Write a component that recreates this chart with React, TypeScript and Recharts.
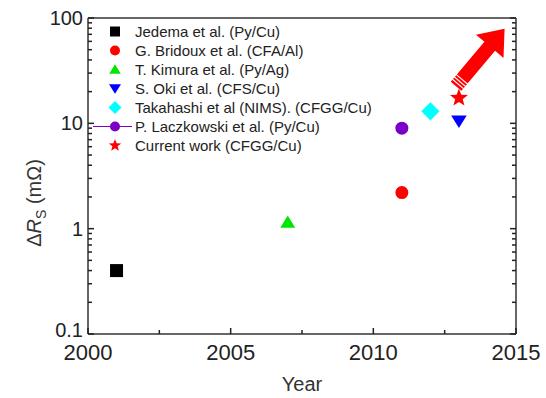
import { ReferenceLine, Scatter, ScatterChart, XAxis, YAxis } from 'recharts'

// one point per publication: [year, ΔRs in mΩ]
const jedema = [{ year: 2001, dr: 0.4 }]
const bridoux = [{ year: 2011, dr: 2.2 }]
const kimura = [{ year: 2007, dr: 1.15 }]
const oki = [{ year: 2013, dr: 10.5 }]
const takahashi = [{ year: 2012, dr: 13 }]
const laczkowski = [{ year: 2011, dr: 9 }]
const current = [{ year: 2013, dr: 17.4 }]

// arrow annotation, in data units
const arrowFrom = { year: 2012.9, dr: 22.5 }
const arrowTo = { year: 2014.6, dr: 79 }

const xTicks = [2000, 2002.5, 2005, 2007.5, 2010, 2012.5, 2015]
const xLabels = [2000, 2005, 2010, 2015]
const yDecades = [0.1, 1, 10, 100]
const yTicks = [
  0.1, 0.2, 0.3, 0.4, 0.5, 0.6, 0.7, 0.8, 0.9,
  1, 2, 3, 4, 5, 6, 7, 8, 9,
  10, 20, 30, 40, 50, 60, 70, 80, 90,
  100,
]

type Sym = 'square' | 'circle' | 'triangle' | 'down' | 'diamond' | 'star'

const series: { name: string; color: string; symbol: Sym; data: { year: number; dr: number }[]; line?: boolean }[] = [
  { name: 'Jedema et al. (Py/Cu)', color: '#000000', symbol: 'square', data: jedema },
  { name: 'G. Bridoux et al. (CFA/Al)', color: '#ff0000', symbol: 'circle', data: bridoux },
  { name: 'T. Kimura et al. (Py/Ag)', color: '#00e600', symbol: 'triangle', data: kimura },
  { name: 'S. Oki et al. (CFS/Cu)', color: '#0000ff', symbol: 'down', data: oki },
  { name: 'Takahashi et al (NIMS). (CFGG/Cu)', color: '#00ffff', symbol: 'diamond', data: takahashi },
  { name: 'P. Laczkowski et al. (Py/Cu)', color: '#7a00c8', symbol: 'circle', data: laczkowski, line: true },
  { name: 'Current work (CFGG/Cu)', color: '#ff0000', symbol: 'star', data: current },
]

const AXIS = '#333'
const FONT = '"Liberation Sans", Arial, sans-serif'

function symbolPath(sym: Sym, cx: number, cy: number, s: number) {
  const h = s / 2
  switch (sym) {
    case 'square':
      return `M${cx - h},${cy - h}h${s}v${s}h${-s}Z`
    case 'triangle':
      return `M${cx},${cy - h * 1.05}L${cx + h * 1.15},${cy + h * 0.85}L${cx - h * 1.15},${cy + h * 0.85}Z`
    case 'down':
      return `M${cx},${cy + h * 1.05}L${cx + h * 1.2},${cy - h * 0.85}L${cx - h * 1.2},${cy - h * 0.85}Z`
    case 'diamond':
      return `M${cx},${cy - h * 1.3}L${cx + h * 1.3},${cy}L${cx},${cy + h * 1.3}L${cx - h * 1.3},${cy}Z`
    case 'star': {
      const pts: string[] = []
      const ro = h * 1.45
      const ri = ro * 0.42
      for (let i = 0; i < 10; i++) {
        const r = i % 2 === 0 ? ro : ri
        const a = -Math.PI / 2 + (i * Math.PI) / 5
        pts.push(`${cx + r * Math.cos(a)},${cy + r * Math.sin(a)}`)
      }
      return `M${pts.join('L')}Z`
    }
    default:
      return `M${cx - h},${cy}a${h},${h} 0 1,0 ${s},0a${h},${h} 0 1,0 ${-s},0`
  }
}

function Marker({ sym, color, cx, cy, size }: { sym: Sym; color: string; cx: number; cy: number; size: number }) {
  return <path d={symbolPath(sym, cx, cy, size)} fill={color} />
}

// ticks point inward on all four sides, labels only on bottom/left
function XTick(props: any) {
  const { payload, side } = props
  const x = Number(props.x)
  const y = Number(props.y)
  const major = payload.value % 5 === 0
  const len = major ? 6 : 4
  const dir = side === 'bottom' ? -1 : 1
  return (
    <g>
      <path d={`M${x},${y}V${y + dir * len}`} stroke="#222" strokeWidth={1.5} />
      {side === 'bottom' && xLabels.includes(payload.value) && (
        <text fill="#222" fontFamily={FONT} fontSize={22} textAnchor="middle" x={x} y={y + 26}>
          {payload.value}
        </text>
      )}
    </g>
  )
}

function YTick(props: any) {
  const { payload, side } = props
  const x = Number(props.x)
  const y = Number(props.y)
  const major = yDecades.some(d => Math.abs(d - payload.value) < 1e-9)
  const len = major ? 6 : 4
  const dir = side === 'left' ? 1 : -1
  return (
    <g>
      <path d={`M${x},${y}H${x + dir * len}`} stroke="#222" strokeWidth={1.5} />
      {side === 'left' && major && (
        <text fill="#222" fontFamily={FONT} fontSize={20} textAnchor="end" x={x - 5} y={y + (payload.value === 0.1 ? 3 : 7)}>
          {payload.value}
        </text>
      )}
    </g>
  )
}

function Arrow({ x1, y1, x2, y2 }: any) {
  const dx = x2 - x1
  const dy = y2 - y1
  const L = Math.hypot(dx, dy)
  const ux = dx / L
  const uy = dy / L
  const nx = -uy
  const ny = ux
  const headLen = 23
  const headHalf = 18
  const shaft = 7
  const bx = x2 - ux * headLen
  const by = y2 - uy * headLen
  const p = (px: number, py: number) => `${px},${py}`
  const pts = [
    p(x1 + nx * shaft, y1 + ny * shaft),
    p(bx + nx * shaft, by + ny * shaft),
    p(bx + nx * headHalf, by + ny * headHalf),
    p(x2, y2),
    p(bx - nx * headHalf, by - ny * headHalf),
    p(bx - nx * shaft, by - ny * shaft),
    p(x1 - nx * shaft, y1 - ny * shaft),
  ]
  const stripes = [3, 6, 9].map(d => {
    const sx = x1 + ux * d
    const sy = y1 + uy * d
    return (
      <line
        key={d}
        stroke="#fff"
        strokeWidth={1.1}
        x1={sx + nx * (shaft + 1)}
        x2={sx - nx * (shaft + 1)}
        y1={sy + ny * (shaft + 1)}
        y2={sy - ny * (shaft + 1)}
      />
    )
  })
  return (
    <g>
      <polygon fill="#ff0000" points={pts.join(' ')} />
      {stripes}
    </g>
  )
}

function LegendBox() {
  return (
    <div style={{ position: 'absolute', left: 92, top: 22, fontFamily: FONT, fontSize: 15, color: '#222' }}>
      {series.map(s => (
        <div key={s.name} style={{ display: 'flex', alignItems: 'center', height: 19, whiteSpace: 'nowrap' }}>
          <svg height={19} style={{ display: 'block' }} width={43}>
            {s.line && <line stroke={s.color} strokeWidth={1} x1={1} x2={40} y1={9.5} y2={9.5} />}
            <Marker color={s.color} cx={23} cy={9.5} size={s.symbol === 'star' ? 9 : 10} sym={s.symbol} />
          </svg>
          <span>{s.name}</span>
        </div>
      ))}
    </div>
  )
}

function YLabel() {
  return (
    <text fill="#333" fontFamily={FONT} fontSize={20} textAnchor="middle" transform="translate(41,203) rotate(-90)">
      <tspan>Δ</tspan>
      <tspan fontStyle="italic">R</tspan>
      <tspan dy={5} fontSize={14}>S</tspan>
      <tspan dy={-5}> (mΩ)</tspan>
    </text>
  )
}

export default function App() {
  return (
    <div style={{ position: 'absolute', left: 0, top: 0, width: 546, height: 398, background: '#fff' }}>
      <ScatterChart height={398} margin={{ top: 17, right: 29, bottom: 63, left: 87 }} width={546}>
        <XAxis
          allowDataOverflow
          axisLine={{ stroke: AXIS, strokeWidth: 1.5 }}
          dataKey="year"
          domain={[2000, 2015]}
          height={1}
          interval={0}
          label={{ value: 'Year', position: 'bottom', offset: 42, fontSize: 20, fill: '#333', fontFamily: FONT }}
          orientation="bottom"
          tick={<XTick side="bottom" />}
          tickLine={false}
          tickMargin={0}
          tickSize={0}
          ticks={xTicks}
          type="number"
          xAxisId="b"
        />
        <XAxis
          allowDataOverflow
          axisLine={{ stroke: AXIS, strokeWidth: 1.5 }}
          domain={[2000, 2015]}
          height={1}
          interval={0}
          orientation="top"
          tick={<XTick side="top" />}
          tickLine={false}
          tickMargin={0}
          tickSize={0}
          ticks={xTicks}
          type="number"
          xAxisId="t"
        />
        <YAxis
          allowDataOverflow
          axisLine={{ stroke: AXIS, strokeWidth: 1.5 }}
          dataKey="dr"
          domain={[0.1, 100]}
          interval={0}
          label={{ content: <YLabel /> }}
          orientation="left"
          scale="log"
          tick={<YTick side="left" />}
          tickLine={false}
          tickMargin={0}
          tickSize={0}
          ticks={yTicks}
          type="number"
          width={1}
          yAxisId="l"
        />
        <YAxis
          allowDataOverflow
          axisLine={{ stroke: AXIS, strokeWidth: 1.5 }}
          domain={[0.1, 100]}
          interval={0}
          orientation="right"
          scale="log"
          tick={<YTick side="right" />}
          tickLine={false}
          tickMargin={0}
          tickSize={0}
          ticks={yTicks}
          type="number"
          width={1}
          yAxisId="r"
        />
        {series.map(s => (
          <Scatter
            data={s.data}
            fill={s.color}
            isAnimationActive={false}
            key={s.name}
            name={s.name}
            shape={(p: any) => (
              <Marker color={s.color} cx={p.cx} cy={p.cy} size={s.symbol === 'diamond' ? 14 : 13} sym={s.symbol} />
            )}
            xAxisId="b"
            yAxisId="l"
          />
        ))}
        <ReferenceLine
          segment={[
            { x: arrowFrom.year, y: arrowFrom.dr },
            { x: arrowTo.year, y: arrowTo.dr },
          ]}
          shape={<Arrow />}
          xAxisId="b"
          yAxisId="l"
        />
      </ScatterChart>
      <LegendBox />
    </div>
  )
}
